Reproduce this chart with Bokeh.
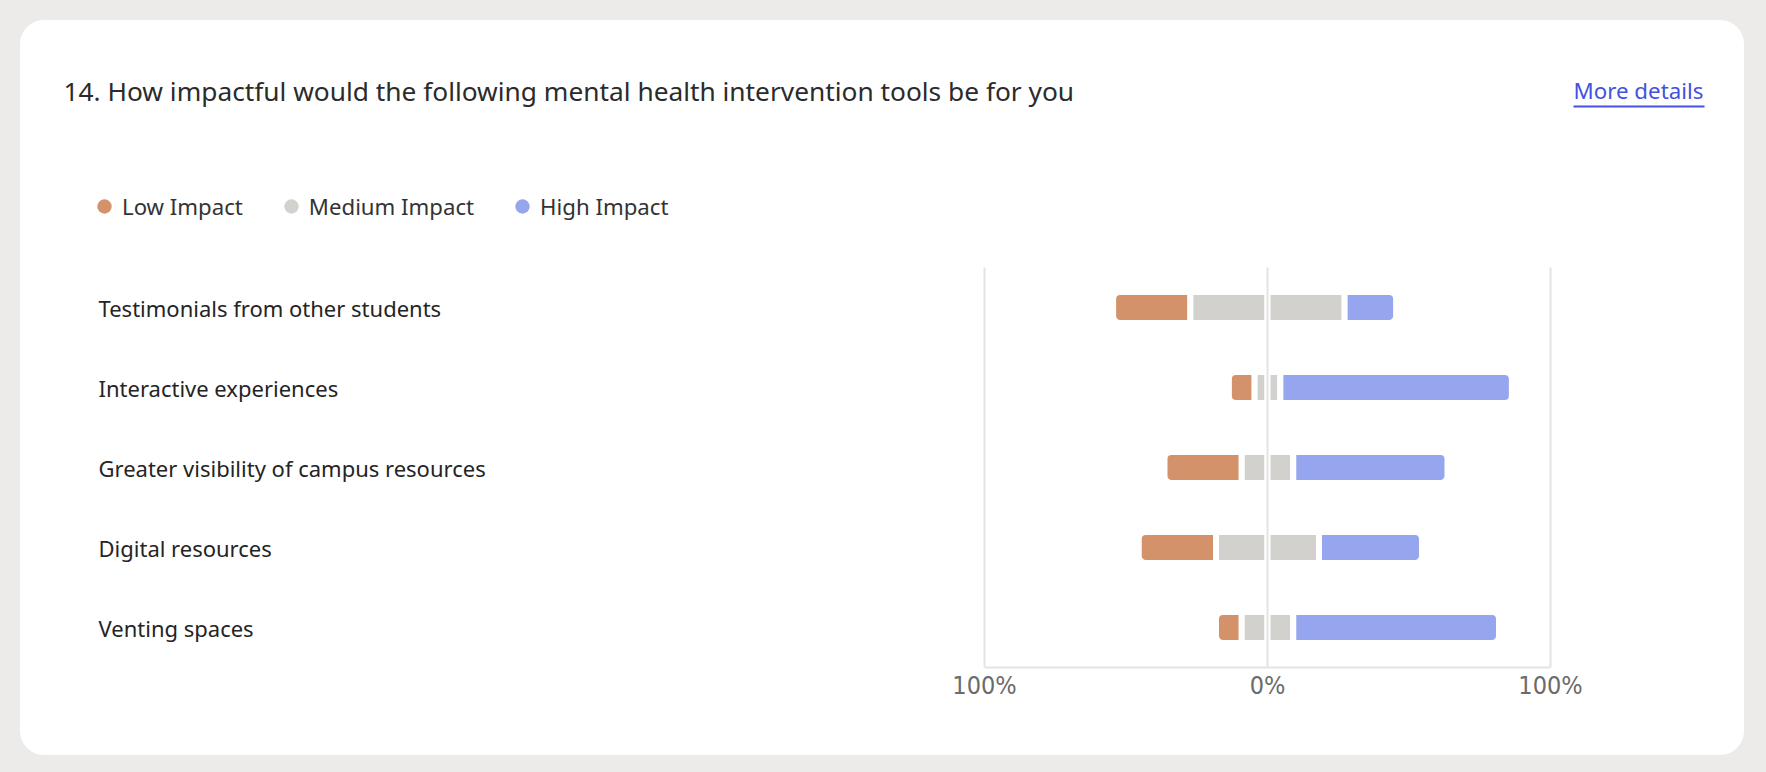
from bokeh.plotting import figure
from bokeh.models import (ColumnDataSource, Range1d, FixedTicker, CustomJSTickFormatter,
                          Label, LabelSet, Legend, LegendItem, BoxAnnotation, Spacer)
from bokeh.layouts import column, row
from bokeh.core.properties import value
from bokeh.embed import file_html
from bokeh.resources import INLINE

# ---------------- data ----------------
categories = [
    "Testimonials from other students",
    "Interactive experiences",
    "Greater visibility of campus resources",
    "Digital resources",
    "Venting spaces",
]
low_pct = [27.3, 9.1, 27.3, 27.3, 9.1]
medium_pct = [54.5, 9.1, 18.2, 36.4, 18.2]
high_pct = [18.2, 81.8, 54.5, 36.4, 72.7]
series_names = ["Low Impact", "Medium Impact", "High Impact"]
series_colors = ["#d4926b", "#d2d1cd", "#96a6ee"]
tick_values = [-100, 0, 100]
title_text = "14. How impactful would the following mental health intervention tools be for you"
link_text = "More details"

# ---------------- layout constants (pixels inside the card) ----------------
PAGE_BG = "#ecebe9"
CARD_X, CARD_Y = 20, 20
CARD_W, CARD_H = 1724, 735
FRAME_H = 647
AX_L, AX_R = 964, 1530
ROW0, ROW_STEP = 287, 80
FONT = "Noto Sans"
TICK_FONT = "'Liberation Sans Narrow', 'DejaVu Sans Condensed', 'Roboto Condensed', 'Liberation Sans', sans-serif"


def px2x(px):
    return -100 + (px - AX_L) * 200.0 / (AX_R - AX_L)


def px2y(py):
    return (py - ROW0) / ROW_STEP


n = len(categories)
ys = list(range(n))
src = ColumnDataSource(dict(
    y=ys,
    cat=categories,
    lx=[px2x(78)] * n,
    ll=[-(m / 2 + l) for l, m in zip(low_pct, medium_pct)],
    lr=[-m / 2 for m in medium_pct],
    mc=[0] * n,
    mr=[m / 2 for m in medium_pct],
    hr=[m / 2 + h for m, h in zip(medium_pct, high_pct)],
))

p = figure(width=CARD_W, height=CARD_H,
           x_range=Range1d(px2x(0), px2x(CARD_W)),
           y_range=Range1d(px2y(FRAME_H), px2y(0)),
           output_backend="svg", toolbar_location=None, title=None,
           y_axis_location=None,
           min_border_left=0, min_border_right=0, min_border_top=0,
           min_border_bottom=CARD_H - FRAME_H)
p.xgrid.visible = False
p.ygrid.visible = False
p.outline_line_color = None
p.background_fill_color = None
p.border_fill_color = None
p.styles = {"border-radius": "24px", "overflow": "hidden", "background-color": "white"}

bar_h = 31 / ROW_STEP
common = dict(y="y", height=bar_h, source=src, line_color="white", line_width=6)
p.hbar(left="ll", right="lr", fill_color=series_colors[0], border_radius=(7, 0, 0, 7), **common)
p.hbar(left="lr", right="mc", fill_color=series_colors[1], **common)
p.hbar(left="mc", right="mr", fill_color=series_colors[1], **common)
p.hbar(left="mr", right="hr", fill_color=series_colors[2], border_radius=(0, 7, 7, 0), **common)

# vertical reference lines
p.segment(x0=tick_values, x1=tick_values, y0=[-0.5] * len(tick_values),
          y1=[n - 0.5] * len(tick_values), line_color="#e3e3e3", line_width=2)

# x axis
ax = p.xaxis[0]
ax.ticker = FixedTicker(ticks=tick_values)
ax.formatter = CustomJSTickFormatter(code="return Math.abs(tick) + '%';")
ax.bounds = (-100, 100)
ax.axis_line_color = "#e3e3e3"
ax.axis_line_width = 2
ax.major_tick_line_color = None
ax.minor_tick_line_color = None
ax.major_tick_out = 0
ax.major_tick_in = 0
ax.major_label_standoff = 3
ax.major_label_text_font = TICK_FONT
ax.major_label_text_font_size = "25px"
ax.major_label_text_color = "#6b6b6b"

# category labels
p.add_layout(LabelSet(x="lx", y="y", text="cat", source=src, text_align="left",
                      text_baseline="middle", text_font=value(FONT),
                      text_font_size="22px", text_color="#242424"))

# title and link
p.add_layout(Label(x=px2x(43), y=px2y(70), text=title_text, text_font=FONT,
                   text_font_size="26.3px", text_color="#2b2b2b", text_baseline="middle"))
p.add_layout(Label(x=px2x(1553), y=px2y(70), text=link_text, text_font=FONT,
                   text_font_size="22.3px", text_color="#4352e0", text_baseline="middle"))
p.add_layout(BoxAnnotation(left=px2x(1553), right=px2x(1684), top=px2y(85), bottom=px2y(87),
                           fill_color="#4352e0", fill_alpha=1.0, line_color=None))

# legend
nan = float("nan")
items = []
for name, color in zip(series_names, series_colors):
    r = p.scatter(x=[nan], y=[nan], marker="circle", size=15, fill_color=color, line_color=None)
    items.append(LegendItem(label=name, renderers=[r]))
legend = Legend(items=items, orientation="horizontal", location=(66, FRAME_H - 205),
                glyph_width=36, glyph_height=38, label_standoff=0, spacing=30,
                padding=0, margin=0, border_line_color=None, background_fill_alpha=0,
                label_text_font=FONT, label_text_font_size="22.2px",
                label_text_color="#333333", label_height=38)
p.add_layout(legend)

layout = column(Spacer(height=CARD_Y), row(Spacer(width=CARD_X), p))

html = file_html(layout, INLINE)
css = "<style>html, body { background-color: %s !important; margin: 0 !important; }</style>" % PAGE_BG
html = html.replace("</head>", css + "\n</head>", 1)
open("out.html", "w").write(html)
